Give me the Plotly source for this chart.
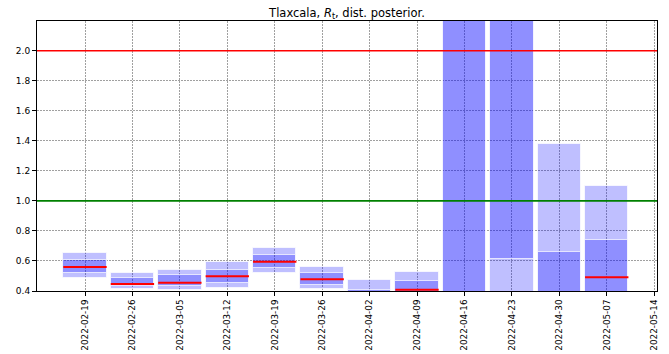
import datetime as dt
import plotly.graph_objects as go

# Weekly posterior summaries of R_t for Tlaxcala
dates = ["2022-02-19", "2022-02-26", "2022-03-05", "2022-03-12", "2022-03-19",
         "2022-03-26", "2022-04-02", "2022-04-09", "2022-04-16", "2022-04-23",
         "2022-04-30", "2022-05-07"]
q_low = [0.485, 0.411, 0.410, 0.418, 0.518, 0.411, 0.350, 0.360, 0.300, 0.320, 0.300, 0.330]
q_high = [0.653, 0.520, 0.540, 0.593, 0.689, 0.562, 0.471, 0.525, 5.000, 3.600, 1.378, 1.100]
iqr_low = [0.518, 0.430, 0.430, 0.451, 0.553, 0.440, 0.370, 0.380, 0.380, 0.613, 0.340, 0.360]
iqr_high = [0.607, 0.489, 0.509, 0.540, 0.640, 0.520, 0.405, 0.465, 3.400, 2.600, 0.662, 0.740]
median = [0.560, 0.447, 0.455, 0.498, 0.595, 0.478, 0.390, 0.408, 2.500, 2.400, 0.380, 0.492]

tick_dates = dates + ["2022-05-14"]

DAY_MS = 24 * 3600 * 1000
bar_days = 6.4
bar_w = bar_days * DAY_MS
fill = "rgba(0,0,255,0.25)"
edge = dict(color="rgba(255,255,255,0.7)", width=1)

fig = go.Figure()

fig.add_trace(go.Bar(
    x=dates, y=[h - l for h, l in zip(q_high, q_low)], base=q_low,
    width=[bar_w] * len(dates), marker=dict(color=fill, line=edge),
    showlegend=False, hoverinfo="skip"))
fig.add_trace(go.Bar(
    x=dates, y=[h - l for h, l in zip(iqr_high, iqr_low)], base=iqr_low,
    width=[bar_w] * len(dates), marker=dict(color=fill, line=edge),
    showlegend=False, hoverinfo="skip"))

# Median segments spanning each bar
mx, my = [], []
for d, m in zip(dates, median):
    c = dt.datetime.fromisoformat(d)
    half = dt.timedelta(days=bar_days / 2)
    mx += [c - half, c + half, None]
    my += [m, m, None]
fig.add_trace(go.Scatter(x=mx, y=my, mode="lines", line=dict(color="red", width=2),
                         showlegend=False, hoverinfo="skip"))

fig.add_hline(y=2.0, line=dict(color="red", width=1.6))
fig.add_hline(y=1.0, line=dict(color="green", width=1.6))

font = "DejaVu Sans"
grid = dict(showgrid=True, gridcolor="#a0a0a0", griddash="1.5px,1.5px", gridwidth=0.8)
fig.update_layout(
    width=669, height=354,
    margin=dict(l=37, r=12, t=21, b=63),
    barmode="overlay", bargap=0,
    plot_bgcolor="white", paper_bgcolor="white",
    font=dict(family=font, size=10, color="black"),
    title=dict(text="Tlaxcala, <i>R</i><sub>t</sub>, dist. posterior.",
               x=(37 + 657) / 2 / 669, xanchor="center", y=0.975, yanchor="top",
               font=dict(family=font, size=11.5, color="black")),
)
fig.update_xaxes(
    range=["2022-02-11 22:00", "2022-05-14 10:00"],
    tickvals=tick_dates, ticktext=tick_dates, tickangle=-90,
    ticks="outside", ticklen=4, tickcolor="black", **grid,
    showline=True, linecolor="black", linewidth=1, mirror=True,
    layer="above traces", tickfont=dict(size=8.8), automargin=False,
)
fig.update_yaxes(
    range=[0.4, 2.198],
    tickvals=[0.4, 0.6, 0.8, 1.0, 1.2, 1.4, 1.6, 1.8, 2.0], tickformat=".1f",
    ticks="outside", ticklen=4, tickcolor="black", **grid,
    showline=True, linecolor="black", linewidth=1, mirror=True,
    zeroline=False, layer="above traces", tickfont=dict(size=9), automargin=False,
)

fig.write_html("out.html")
